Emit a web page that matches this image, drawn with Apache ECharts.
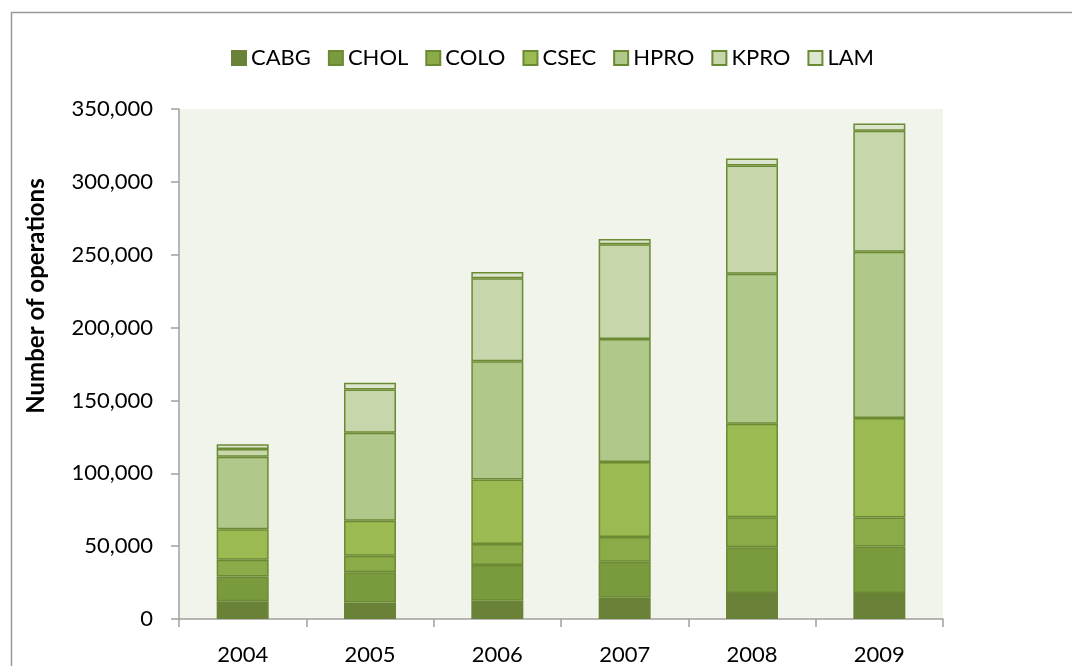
<!DOCTYPE html>
<html>
<head>
<meta charset="utf-8">
<script src="https://cdn.jsdelivr.net/npm/echarts@6/dist/echarts.min.js"></script>
<style>
html,body{margin:0;padding:0;background:#fff;}
#chart{width:1072px;height:666px;}
</style>
</head>
<body>
<div id="chart"></div>
<script>
var years = ['2004', '2005', '2006', '2007', '2008', '2009'];
var seriesNames = ['CABG', 'CHOL', 'COLO', 'CSEC', 'HPRO', 'KPRO', 'LAM'];
var CABG = [12100, 11400, 12600, 14600, 17800, 17800];
var CHOL = [17100, 20600, 24400, 24700, 31500, 32000];
var COLO = [11400, 11400, 14400, 16900, 20600, 19800];
var CSEC = [21000, 24000, 44300, 51600, 64100, 68300];
var HPRO = [49800, 60500, 81200, 84400, 103000, 114100];
var KPRO = [5300, 29600, 56900, 64900, 74200, 83100];
var LAM = [3300, 4600, 4300, 3600, 4800, 4900];
var yTicks = [0, 50000, 100000, 150000, 200000, 250000, 300000, 350000];

var seriesData = [CABG, CHOL, COLO, CSEC, HPRO, KPRO, LAM];
var colors = ['#6A8237', '#7A9A3E', '#8BAA48', '#9BBB52', '#B0C889', '#C7D7AB', '#DCE6CF'];
var borderCol = '#6B8A33';
var font = 'Lato, "Open Sans", sans-serif';

var chart = echarts.init(document.getElementById('chart'), null, {renderer: 'canvas'});
var series = seriesNames.map(function (n, i) {
  return {
    name: n,
    type: 'bar',
    stack: 'total',
    barWidth: 52,
    data: seriesData[i],
    itemStyle: {
      color: colors[i],
      borderColor: i === 0 ? colors[0] : borderCol,
      borderWidth: 1.5
    }
  };
});

chart.setOption({
  animation: false,
  backgroundColor: '#ffffff',
  color: colors,
  legend: {
    top: 42,
    left: 226,
    itemWidth: 14,
    itemHeight: 14,
    itemGap: 17,
    icon: 'rect',
    textStyle: {fontFamily: font, fontSize: 22, color: '#000', padding: [0, 0, 0, 0]},
    data: seriesNames
  },
  grid: {
    left: 179,
    right: 129,
    top: 109,
    bottom: 46,
    show: true,
    backgroundColor: '#F1F4EA',
    borderWidth: 0
  },
  xAxis: {
    type: 'category',
    data: years,
    axisLine: {lineStyle: {color: '#A0A0A0', width: 1.5}},
    axisTick: {show: true, length: 8, lineStyle: {color: '#A0A0A0', width: 1.5}, alignWithLabel: false},
    axisLabel: {fontFamily: font, fontSize: 22, color: '#000', margin: 25}
  },
  yAxis: {
    type: 'value',
    min: yTicks[0],
    max: yTicks[yTicks.length - 1],
    interval: yTicks[1] - yTicks[0],
    splitLine: {show: false},
    axisLine: {show: true, lineStyle: {color: '#A0A0A0', width: 1.5}},
    axisTick: {show: true, length: 8, lineStyle: {color: '#A0A0A0', width: 1.5}},
    axisLabel: {
      fontFamily: font, fontSize: 22, color: '#000', margin: 26,
      formatter: function (v) { return v.toLocaleString('en-US'); }
    }
  },
  graphic: [
    {
      type: 'rect',
      shape: {x: 11.5, y: 12.5, width: 1100, height: 700},
      style: {fill: 'none', stroke: '#999999', lineWidth: 1.5},
      silent: true
    },
    {
      type: 'text',
      x: 36,
      y: 296,
      rotation: Math.PI / 2,
      style: {
        text: 'Number of operations',
        fontFamily: font,
        fontSize: 24,
        fontWeight: 'bold',
        fill: '#000',
        align: 'center',
        verticalAlign: 'middle'
      }
    }
  ],
  series: series
});
</script>
</body>
</html>
